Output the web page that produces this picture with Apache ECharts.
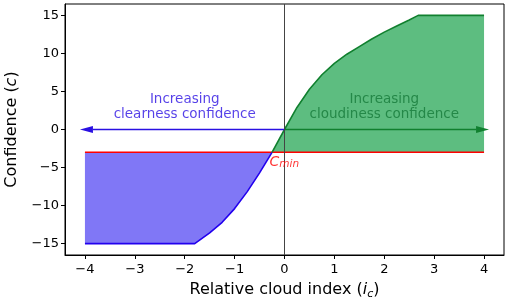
<!DOCTYPE html>
<html>
<head>
<meta charset="utf-8">
<script src="https://cdn.jsdelivr.net/npm/echarts@6/dist/echarts.min.js"></script>
<style>html,body{margin:0;padding:0;background:#fff}#c{width:510px;height:305px}</style>
</head>
<body>
<div id="c"></div>
<script>
// ---- data ----
const X_TICKS = [-4, -3, -2, -1, 0, 1, 2, 3, 4];
const Y_TICKS = [-15, -10, -5, 0, 5, 10, 15];
const X_RANGE = [-4.4, 4.4];
const Y_RANGE = [-16.5, 16.5];
const C_MIN = -3;
const RED_X = [-4, 4];
// clearness (blue) branch of the curve, below c_min
const blueX = [-4, -1.8, -1.5, -1.25, -1.0, -0.75, -0.5, -0.25];
const blueC = [-15, -15, -13.6, -12.2, -10.4, -8.2, -5.7, -3.0];
// cloudiness (green) branch of the curve, above c_min
const greenX = [-0.25, 0, 0.25, 0.5, 0.75, 1.0, 1.25, 1.5, 1.75, 2.0, 2.25, 2.5, 2.68, 4];
const greenC = [-3.0, 0, 2.9, 5.3, 7.2, 8.7, 9.9, 10.9, 11.9, 12.8, 13.6, 14.4, 15, 15];
// arrows: start and tip (x), at c = 0
const ARROW_START = 0;
const ARROW_TIPS = [-4.1, 4.1];
// annotation anchors
const TEXT_BLUE = 'Increasing\nclearness confidence';
const TEXT_GREEN = 'Increasing\ncloudiness confidence';
const TEXT_POS = [[-2, 2.9], [2, 2.9]];
const CMIN_POS = [-0.3, C_MIN];

const FONT = 'DejaVu Sans';
const BLUE_LINE = '#2200ee', BLUE_FILL = '#8077f6', BLUE_TEXT = '#2a10e2';
const GREEN_LINE = '#11802f', GREEN_FILL = '#5dbd80', GREEN_TEXT = '#167a3a';

const zip = (a, b) => a.map((v, i) => [v, b[i]]);
const fmt = v => String(v).replace('-', '\u2212');

function fillSeries(xs, cs, base, color) {
  return {
    type: 'custom', coordinateSystem: 'cartesian2d', silent: true, z: 1, clip: true,
    data: [[xs[0], cs[0]]],
    renderItem: (params, api) => {
      const pts = xs.map((x, i) => api.coord([x, cs[i]]));
      for (let i = xs.length - 1; i >= 0; i--) pts.push(api.coord([xs[i], base]));
      return { type: 'polygon', shape: { points: pts }, style: { fill: color } };
    }
  };
}

function arrowSeries(x0, x1, color) {
  return {
    type: 'custom', coordinateSystem: 'cartesian2d', silent: true, z: 4,
    data: [[x0, 0]],
    renderItem: (params, api) => {
      const p0 = api.coord([x0, 0]);
      const p1 = api.coord([x1, 0]);
      const dir = p1[0] > p0[0] ? 1 : -1;
      const hb = p1[0] - dir * 13;
      return {
        type: 'group', children: [
          { type: 'line', shape: { x1: p0[0], y1: p0[1], x2: hb, y2: p1[1] }, style: { stroke: color, lineWidth: 1.5 } },
          { type: 'polygon', shape: { points: [[p1[0], p1[1]], [hb, p1[1] - 3.5], [hb, p1[1] + 3.5]] }, style: { fill: color } }
        ]
      };
    }
  };
}

function textSeries(pos, text, color) {
  return {
    type: 'scatter', silent: true, z: 5, symbolSize: 1,
    itemStyle: { color: 'rgba(0,0,0,0)' },
    data: [pos],
    label: {
      show: true, position: 'inside', formatter: () => text,
      color: color, fontFamily: FONT, fontSize: 13.5, lineHeight: 15, align: 'center', verticalAlign: 'middle'
    }
  };
}

const chart = echarts.init(document.getElementById('c'), null, { renderer: 'canvas' });
chart.setOption({
  animation: false,
  grid: { left: 65, right: 6, top: 4, bottom: 50, containLabel: false, outerBoundsMode: 'none',
          show: true, borderColor: '#000', borderWidth: 1, backgroundColor: 'transparent' },
  xAxis: {
    type: 'value', min: X_RANGE[0], max: X_RANGE[1],
    axisLine: { show: true, onZero: false, lineStyle: { color: '#000', width: 1 } },
    axisTick: { show: true, customValues: X_TICKS, length: 4, lineStyle: { color: '#000', width: 1 } },
    axisLabel: { customValues: X_TICKS, formatter: fmt, color: '#000', fontFamily: FONT, fontSize: 13, margin: 8 },
    splitLine: { show: false },
    name: '{n|Relative cloud index (}{i|i}{s|c}{n|)}',
    nameLocation: 'middle', nameGap: 27,
    nameTextStyle: {
      fontFamily: FONT, fontSize: 16, color: '#000',
      rich: {
        n: { fontFamily: FONT, fontSize: 16, color: '#000', lineHeight: 18, verticalAlign: 'top' },
        i: { fontFamily: FONT, fontSize: 16, color: '#000', fontStyle: 'italic', lineHeight: 18, verticalAlign: 'top' },
        s: { fontFamily: FONT, fontSize: 11, color: '#000', fontStyle: 'italic', lineHeight: 11, verticalAlign: 'bottom' }
      }
    }
  },
  yAxis: {
    type: 'value', min: Y_RANGE[0], max: Y_RANGE[1],
    axisLine: { show: true, onZero: false, lineStyle: { color: '#000', width: 1 } },
    axisTick: { show: true, customValues: Y_TICKS, length: 4, lineStyle: { color: '#000', width: 1 } },
    axisLabel: { customValues: Y_TICKS, formatter: fmt, color: '#000', fontFamily: FONT, fontSize: 13, margin: 6 },
    splitLine: { show: false },
    name: '{n|Confidence (}{i|c}{n|)}',
    nameLocation: 'middle', nameGap: 45,
    nameTextStyle: {
      fontFamily: FONT, fontSize: 16, color: '#000',
      rich: {
        n: { fontFamily: FONT, fontSize: 16, color: '#000' },
        i: { fontFamily: FONT, fontSize: 16, color: '#000', fontStyle: 'italic' }
      }
    }
  },
  series: [
    fillSeries(greenX, greenC, C_MIN, GREEN_FILL),
    fillSeries(blueX, blueC, C_MIN, BLUE_FILL),
    {
      type: 'line', data: RED_X.map(x => [x, C_MIN]), showSymbol: false, silent: true, z: 3,
      lineStyle: { color: '#ff0000', width: 1.6 },
      markLine: {
        silent: true, symbol: ['none', 'none'], label: { show: false },
        lineStyle: { color: '#444', type: 'solid', width: 1 },
        data: [{ xAxis: 0 }]
      }
    },
    { type: 'line', data: zip(blueX, blueC), showSymbol: false, silent: true, z: 3, lineStyle: { color: BLUE_LINE, width: 1.6 } },
    { type: 'line', data: zip(greenX, greenC), showSymbol: false, silent: true, z: 3, lineStyle: { color: GREEN_LINE, width: 1.6 } },
    arrowSeries(ARROW_START, ARROW_TIPS[0], BLUE_TEXT),
    arrowSeries(ARROW_START, ARROW_TIPS[1], GREEN_LINE),
    textSeries(TEXT_POS[0], TEXT_BLUE, BLUE_TEXT),
    textSeries(TEXT_POS[1], TEXT_GREEN, GREEN_TEXT),
    {
      type: 'scatter', silent: true, z: 5, symbolSize: 1, itemStyle: { color: 'rgba(0,0,0,0)' },
      data: [CMIN_POS],
      label: {
        show: true, position: 'inside', align: 'left', verticalAlign: 'top', offset: [0, 3],
        formatter: '{c|C}{s|min}',
        rich: {
          c: { fontFamily: FONT, fontSize: 14, fontStyle: 'italic', color: '#ff0000', lineHeight: 14, verticalAlign: 'top' },
          s: { fontFamily: FONT, fontSize: 10.5, fontStyle: 'italic', color: '#ff0000', lineHeight: 11, verticalAlign: 'bottom' }
        }
      }
    }
  ]
});
</script>
</body>
</html>
